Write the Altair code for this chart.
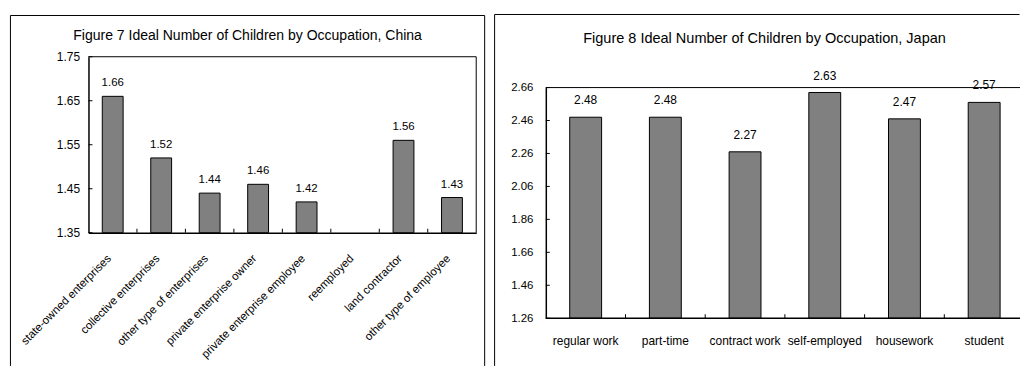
import altair as alt
import pandas as pd

FONT = "Liberation Sans"

# ---- data ----
china_occ = ["state-owned enterprises", "collective enterprises", "other type of enterprises",
             "private enterprise owner", "private enterprise employee", "reemployed",
             "land contractor", "other type of employee"]
china_val = [1.66, 1.52, 1.44, 1.46, 1.42, None, 1.56, 1.43]
china_ticks = [1.35, 1.45, 1.55, 1.65, 1.75]
china_title = "Figure 7 Ideal Number of Children by Occupation, China"

japan_occ = ["regular work", "part-time", "contract work", "self-employed", "housework", "student"]
japan_val = [2.48, 2.48, 2.27, 2.63, 2.47, 2.57]
japan_ticks = [1.26, 1.46, 1.66, 1.86, 2.06, 2.26, 2.46, 2.66]
japan_title = "Figure 8 Ideal Number of Children by Occupation, Japan"

one = pd.DataFrame({"a": [0]})


def yenc(dom, ticks, fs, pad, rng=None):
    sc = dict(domain=dom, zero=False, nice=False)
    if rng is not None:
        sc["range"] = rng
    return alt.Y("value:Q", scale=alt.Scale(**sc),
                 axis=alt.Axis(values=ticks, format=".2f", ticks=False, tickSize=0, grid=False,
                               domain=True, domainColor="black", domainWidth=1.5,
                               labelFont=FONT, labelFontSize=fs, labelColor="black",
                               labelPadding=pad, title=None))


def vline(x, y1, y2, w=1):
    return alt.Chart(one).mark_rule(color="black", strokeWidth=w).encode(
        x=alt.value(x), y=alt.value(y1), y2=alt.value(y2))


def hline(y, x1, x2, w=1):
    return alt.Chart(one).mark_rule(color="black", strokeWidth=w).encode(
        y=alt.value(y), x=alt.value(x1), x2=alt.value(x2))


# ---------------- left panel (China) ----------------
LW, LH = 390, 177
cdf = pd.DataFrame({"occ": china_occ, "value": china_val})
cx_scale = alt.Scale(domain=china_occ, paddingInner=0.57, paddingOuter=0.285)
cy = yenc([1.35, 1.75], china_ticks, 12, 9)

c_bars = alt.Chart(cdf).mark_bar(color="#808080", stroke="black", strokeWidth=1).encode(
    x=alt.X("occ:N", sort=None, scale=cx_scale,
            axis=alt.Axis(title=None, ticks=False, tickSize=0, domain=True, domainColor="black",
                          domainWidth=1.5, labelAngle=-45, labelAlign="right",
                          labelBaseline="middle", labelPadding=24, labelOffset=-3,
                          labelFont=FONT, labelFontSize=11.5, labelColor="black",
                          labelOverlap=False, labelLimit=300)),
    y=cy, y2=alt.datum(1.35))
c_text = alt.Chart(cdf).mark_text(dy=-13, font=FONT, fontSize=11.5, color="black",
                                  baseline="middle").encode(
    x=alt.X("occ:N", sort=None, scale=cx_scale, axis=None),
    y=cy, text=alt.Text("value:Q", format=".2f"))
c_xt = alt.Chart(pd.DataFrame({"pos": list(range(1, len(china_occ)))})).mark_rule(
    color="black").encode(
    x=alt.X("pos:Q", scale=alt.Scale(domain=[0, len(china_occ)], nice=False, zero=False), axis=None),
    y=alt.value(LH - 4), y2=alt.value(LH))
c_yt = alt.Chart(pd.DataFrame({"value": china_ticks})).mark_rule(color="black").encode(
    y=cy, x=alt.value(0), x2=alt.value(4))
c_title = alt.Chart(one).mark_text(text=china_title, font=FONT, fontSize=14.1, color="black",
                                   align="center", baseline="middle").encode(
    x=alt.value(160), y=alt.value(-21))

left = alt.layer(
    c_bars, c_text, c_xt, c_yt,
    hline(0, 0, LW), vline(LW, 0, LH),
    vline(-78.5, -41.5, 311), hline(-41.5, -78.5, 398.5), vline(398.5, -41.5, 311),
    c_title,
).resolve_scale(x="independent").properties(width=LW, height=LH)

# ---------------- right panel (Japan) ----------------
RW, RH = 477, 263
RTOP = 31
jdf = pd.DataFrame({"occ": japan_occ, "value": japan_val})
jx_scale = alt.Scale(domain=japan_occ, range=[0, 481], paddingInner=0.6, paddingOuter=0.3)
jy = yenc([1.26, 2.66], japan_ticks, 11.5, 13, rng=[RH, RTOP])

j_bars = alt.Chart(jdf).mark_bar(color="#808080", stroke="black", strokeWidth=1).encode(
    x=alt.X("occ:N", sort=None, scale=jx_scale,
            axis=alt.Axis(title=None, ticks=False, tickSize=0, domain=False, labelAngle=0,
                          labelPadding=17, labelFont=FONT, labelFontSize=12, labelColor="black",
                          labelOverlap=False)),
    y=jy, y2=alt.datum(1.26))
j_text = alt.Chart(jdf).mark_text(dy=-17, font=FONT, fontSize=12, color="black",
                                  baseline="middle").encode(
    x=alt.X("occ:N", sort=None, scale=jx_scale, axis=None),
    y=jy, text=alt.Text("value:Q", format=".2f"))
j_xt = alt.Chart(pd.DataFrame({"pos": list(range(1, len(japan_occ)))})).mark_rule(
    color="black").encode(
    x=alt.X("pos:Q", scale=alt.Scale(domain=[0, len(japan_occ)], range=[0, 481], nice=False,
                                     zero=False), axis=None),
    y=alt.value(RH - 4), y2=alt.value(RH))
j_yt = alt.Chart(pd.DataFrame({"value": japan_ticks})).mark_rule(color="black").encode(
    y=jy, x=alt.value(0), x2=alt.value(4))
j_top = alt.Chart(one).mark_rule(color="black", strokeWidth=1).encode(y=alt.value(RTOP))
j_bot = alt.Chart(one).mark_rule(color="black", strokeWidth=1.5).encode(y=alt.value(RH))
j_title = alt.Chart(one).mark_text(text=japan_title, font=FONT, fontSize=14.6, color="black",
                                   align="center", baseline="middle").encode(
    x=alt.value(220), y=alt.value(-18))

right = alt.layer(
    j_bars, j_text, j_xt, j_yt, j_top, j_bot,
    vline(-51.5, -42.5, 311), hline(-42.5, -51.5, 476.5),
    j_title,
).resolve_scale(x="independent").properties(width=RW, height=RH)

chart = alt.hconcat(left, right, spacing=70, bounds="flush").properties(
    padding={"left": 9, "top": 12, "right": 0, "bottom": 0},
    background="white",
).configure_view(stroke="transparent")

chart.save("out.html", embed_options={"renderer": "svg", "actions": False})
